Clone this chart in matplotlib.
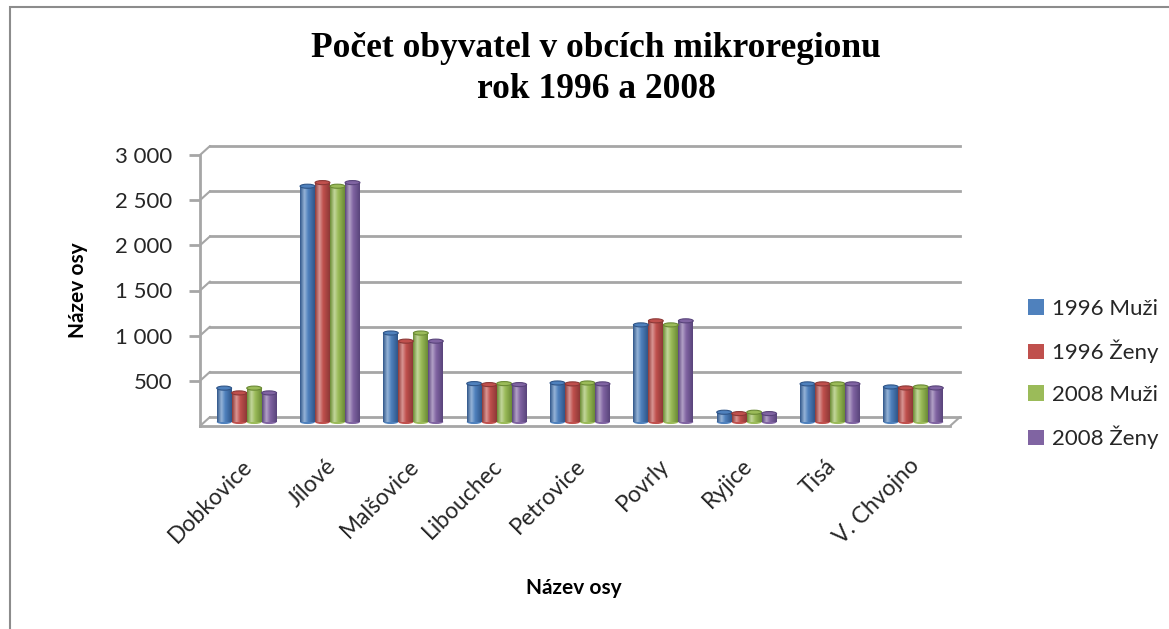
import matplotlib
matplotlib.use("Agg")
import matplotlib.pyplot as plt
import matplotlib.transforms as mtransforms
import numpy as np
from matplotlib.colors import LinearSegmentedColormap, to_rgb
from matplotlib.patches import Ellipse, Rectangle

categories = ["Dobkovice", "Jílové", "Malšovice", "Libouchec", "Petrovice",
              "Povrly", "Ryjice", "Tisá", "V. Chvojno"]
series_names = ["1996 Muži", "1996 Ženy", "2008 Muži", "2008 Ženy"]
muzi_1996 = [375, 2610, 985, 425, 432, 1075, 108, 422, 388]
zeny_1996 = [322, 2650, 895, 414, 422, 1120, 93, 422, 377]
muzi_2008 = [375, 2610, 985, 425, 432, 1075, 108, 422, 388]
zeny_2008 = [322, 2650, 895, 414, 422, 1120, 93, 422, 377]
y_ticks = [500, 1000, 1500, 2000, 2500, 3000]
y_tick_labels = ["500", "1 000", "1 500", "2 000", "2 500", "3 000"]

colors = ["#4F81BD", "#C0504D", "#9BBB59", "#8064A2"]
dark_colors = ["#2F5588", "#8C3836", "#6A8A34", "#58437A"]
grid_col = "#A6A6A6"

plt.rcParams["font.family"] = ["Lato", "DejaVu Sans"]

fig = plt.figure(figsize=(11.69, 6.29), dpi=100)
ax = fig.add_axes([200 / 1169, 1 - 426 / 629, 750 / 1169, 271 / 629])
ax.set_xlim(-0.5, len(categories) - 0.5)
ax.set_ylim(0, 3000)
for s in ax.spines.values():
    s.set_visible(False)

# back wall offset (3D depth look)
back = ax.transData + mtransforms.ScaledTranslation(10 / 100, 9 / 100, fig.dpi_scale_trans)
mid = ax.transData + mtransforms.ScaledTranslation(5 / 100, 4 / 100, fig.dpi_scale_trans)

xl, xr = ax.get_xlim()
for v in [0] + y_ticks:
    ax.plot([xl, xr], [v, v], color=grid_col, lw=2, transform=back, zorder=1, clip_on=False)
    # diagonal from front axis to back wall
    ax.annotate("", xy=(xl, v), xycoords=back, xytext=(xl, v), textcoords="data",
                arrowprops=dict(arrowstyle="-", color=grid_col, lw=1.5, shrinkA=0, shrinkB=0))
# floor front edge and right edge
ax.plot([xl, xr], [0, 0], color=grid_col, lw=2, zorder=1, clip_on=False)
ax.annotate("", xy=(xr, 0), xycoords=back, xytext=(xr, 0), textcoords="data",
            arrowprops=dict(arrowstyle="-", color=grid_col, lw=1.5, shrinkA=0, shrinkB=0))
# front vertical axis
ax.plot([xl, xl], [0, 3000], color=grid_col, lw=2, zorder=1, clip_on=False)

ax.set_yticks(y_ticks)
ax.set_yticklabels(y_tick_labels, fontsize=16, color="#262626")
ax.tick_params(axis="y", length=8, width=2, color=grid_col, pad=12)

x = np.arange(len(categories))
step = 0.18
width = 0.178
cap_h = 45  # ellipse height in data units (~4 px)
series = [muzi_1996, zeny_1996, muzi_2008, zeny_2008]
grad = np.linspace(0, 1, 256).reshape(1, -1)
for i, (vals, c, dc) in enumerate(zip(series, colors, dark_colors)):
    light = tuple(min(1, ch * 0.6 + 0.4) for ch in to_rgb(c))
    cmap = LinearSegmentedColormap.from_list(
        "cyl%d" % i, [(0, dc), (0.3, light), (0.55, c), (1, dc)])
    bars = ax.bar(x + (i - 1.5) * step, vals, width, color=c, label=series_names[i],
                  transform=mid, zorder=3, edgecolor="none")
    for b in bars:
        bx, by = b.get_x(), b.get_y()
        bw, bh = b.get_width(), b.get_height()
        im = ax.imshow(grad, cmap=cmap, aspect="auto", interpolation="bilinear",
                       extent=[bx, bx + bw, by, by + bh], zorder=4)
        im.set_transform(mid)
        im.set_clip_path(b)
        # rounded top and bottom of the cylinder
        ax.add_patch(Ellipse((bx + bw / 2, by), bw, cap_h, facecolor=c,
                             edgecolor="none", transform=mid, zorder=2))
        ax.add_patch(Ellipse((bx + bw / 2, by + bh), bw, cap_h, facecolor=c,
                             edgecolor=dc, lw=0.8, transform=mid, zorder=5))
ax.set_xlim(xl, xr)
ax.set_ylim(0, 3000)

ax.set_xticks(x)
ax.set_xticklabels(categories, rotation=45, ha="right", rotation_mode="anchor",
                   fontsize=16.5, color="#262626")
ax.tick_params(axis="x", length=0, pad=21)

fig.text(574 / 1169, 1 - 588 / 629, "Název osy", ha="center", va="center",
         fontsize=15, fontweight="bold")
fig.text(78 / 1169, 1 - 290 / 629, "Název osy", ha="center", va="center",
         fontsize=15, fontweight="bold", rotation=90)

fig.text(596 / 1169, 1 - 69 / 629, "Počet obyvatel v obcích mikroregionu\nrok 1996 a 2008",
         ha="center", va="center", fontsize=25.5, fontweight="bold",
         family="Liberation Serif", linespacing=1.3)

handles, labels = ax.get_legend_handles_labels()
leg = fig.legend(handles, labels, loc="center left", bbox_to_anchor=(1008 / 1169, 1 - 374 / 629),
                 frameon=False, fontsize=16, labelspacing=0.95, handlelength=0.7,
                 handleheight=0.7, handletextpad=0.4, labelcolor="#262626")

fig.patches.append(Rectangle((10 / 1169, -0.1), 1.2, 1.1 - 7 / 629, transform=fig.transFigure,
                             fill=False, edgecolor="#8C8C8C", lw=1.5, figure=fig))

fig.savefig("out.png", dpi=100)
